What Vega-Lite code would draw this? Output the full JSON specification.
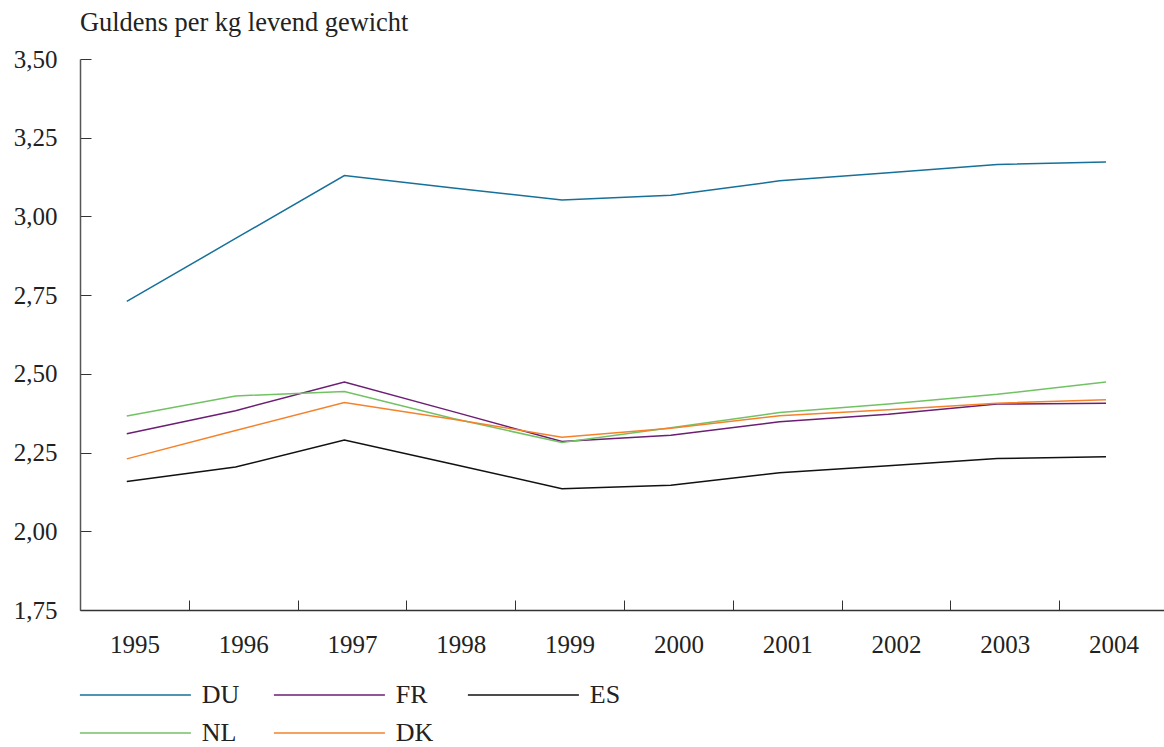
{
  "$schema": "https://vega.github.io/schema/vega-lite/v6.json",
  "autosize": {"type": "none"},
  "padding": {"left": 80, "top": 59, "right": 0, "bottom": 137},
  "width": 1088,
  "height": 551,
  "background": "white",
  "title": {
    "text": "Guldens per kg levend gewicht",
    "anchor": "start",
    "frame": "group",
    "font": "Liberation Serif",
    "fontSize": 26.4,
    "fontWeight": "normal",
    "color": "#222222",
    "baseline": "alphabetic",
    "offset": -10
  },
  "data": {
    "values": [
      {"year": "1995", "country": "DU", "price": 2.73},
      {"year": "1996", "country": "DU", "price": 2.93},
      {"year": "1997", "country": "DU", "price": 3.13},
      {"year": "1998", "country": "DU", "price": 3.09},
      {"year": "1999", "country": "DU", "price": 3.052},
      {"year": "2000", "country": "DU", "price": 3.067},
      {"year": "2001", "country": "DU", "price": 3.113},
      {"year": "2002", "country": "DU", "price": 3.139},
      {"year": "2003", "country": "DU", "price": 3.165},
      {"year": "2004", "country": "DU", "price": 3.173},
      {"year": "1995", "country": "FR", "price": 2.31},
      {"year": "1996", "country": "FR", "price": 2.383},
      {"year": "1997", "country": "FR", "price": 2.474},
      {"year": "1998", "country": "FR", "price": 2.38},
      {"year": "1999", "country": "FR", "price": 2.285},
      {"year": "2000", "country": "FR", "price": 2.305},
      {"year": "2001", "country": "FR", "price": 2.348},
      {"year": "2002", "country": "FR", "price": 2.372},
      {"year": "2003", "country": "FR", "price": 2.404},
      {"year": "2004", "country": "FR", "price": 2.407},
      {"year": "1995", "country": "ES", "price": 2.158},
      {"year": "1996", "country": "ES", "price": 2.204},
      {"year": "1997", "country": "ES", "price": 2.29},
      {"year": "1998", "country": "ES", "price": 2.213},
      {"year": "1999", "country": "ES", "price": 2.135},
      {"year": "2000", "country": "ES", "price": 2.146},
      {"year": "2001", "country": "ES", "price": 2.186},
      {"year": "2002", "country": "ES", "price": 2.208},
      {"year": "2003", "country": "ES", "price": 2.231},
      {"year": "2004", "country": "ES", "price": 2.237},
      {"year": "1995", "country": "NL", "price": 2.366},
      {"year": "1996", "country": "NL", "price": 2.43},
      {"year": "1997", "country": "NL", "price": 2.444},
      {"year": "1998", "country": "NL", "price": 2.358},
      {"year": "1999", "country": "NL", "price": 2.282},
      {"year": "2000", "country": "NL", "price": 2.329},
      {"year": "2001", "country": "NL", "price": 2.377},
      {"year": "2002", "country": "NL", "price": 2.404},
      {"year": "2003", "country": "NL", "price": 2.435},
      {"year": "2004", "country": "NL", "price": 2.474},
      {"year": "1995", "country": "DK", "price": 2.23},
      {"year": "1996", "country": "DK", "price": 2.32},
      {"year": "1997", "country": "DK", "price": 2.409},
      {"year": "1998", "country": "DK", "price": 2.356},
      {"year": "1999", "country": "DK", "price": 2.299},
      {"year": "2000", "country": "DK", "price": 2.327},
      {"year": "2001", "country": "DK", "price": 2.367},
      {"year": "2002", "country": "DK", "price": 2.386},
      {"year": "2003", "country": "DK", "price": 2.407},
      {"year": "2004", "country": "DK", "price": 2.418}
    ]
  },
  "mark": {"type": "line", "strokeWidth": 1.5},
  "encoding": {
    "x": {
      "field": "year",
      "type": "ordinal",
      "bandPosition": 0.43,
      "scale": {"type": "band", "paddingInner": 0, "paddingOuter": 0},
      "axis": {
        "title": null,
        "tickBand": "extent",
        "tickSize": -10,
        "tickColor": "#333333",
        "domainColor": "#333333",
        "domainWidth": 1.3,
        "labelAngle": 0,
        "labelFont": "Liberation Serif",
        "labelFontSize": 25,
        "labelColor": "#222222",
        "labelBaseline": "alphabetic",
        "labelPadding": 52
      }
    },
    "y": {
      "field": "price",
      "type": "quantitative",
      "scale": {"domain": [1.75, 3.5], "nice": false, "zero": false},
      "axis": {
        "title": null,
        "values": [1.75, 2, 2.25, 2.5, 2.75, 3, 3.25, 3.5],
        "format": ".2f",
        "grid": false,
        "tickSize": -11,
        "tickColor": "#333333",
        "domainColor": "#555555",
        "domainWidth": 1.5,
        "labelFont": "Liberation Serif",
        "labelFontSize": 25,
        "labelColor": "#222222",
        "labelPadding": 34
      }
    },
    "color": {
      "field": "country",
      "type": "nominal",
      "scale": {
        "domain": ["DU", "FR", "ES", "NL", "DK"],
        "range": ["#16709a", "#6b1e73", "#111111", "#72c264", "#f5822a"]
      },
      "legend": {
        "title": null,
        "orient": "none",
        "legendX": 42.4,
        "legendY": 623,
        "columns": 3,
        "direction": "horizontal",
        "symbolType": "M-5,0H5",
        "symbolSize": 493,
        "symbolStrokeWidth": 1.5,
        "symbolFillColor": "transparent",
        "labelFont": "Liberation Serif",
        "labelFontSize": 26,
        "labelColor": "#222222",
        "labelOffset": 53.4,
        "columnPadding": 31,
        "rowPadding": 12,
        "padding": 0
      }
    }
  },
  "config": {
    "locale": {"number": {"decimal": ",", "thousands": ".", "grouping": [3], "currency": ["€", ""]}},
    "view": {"stroke": null}
  }
}
